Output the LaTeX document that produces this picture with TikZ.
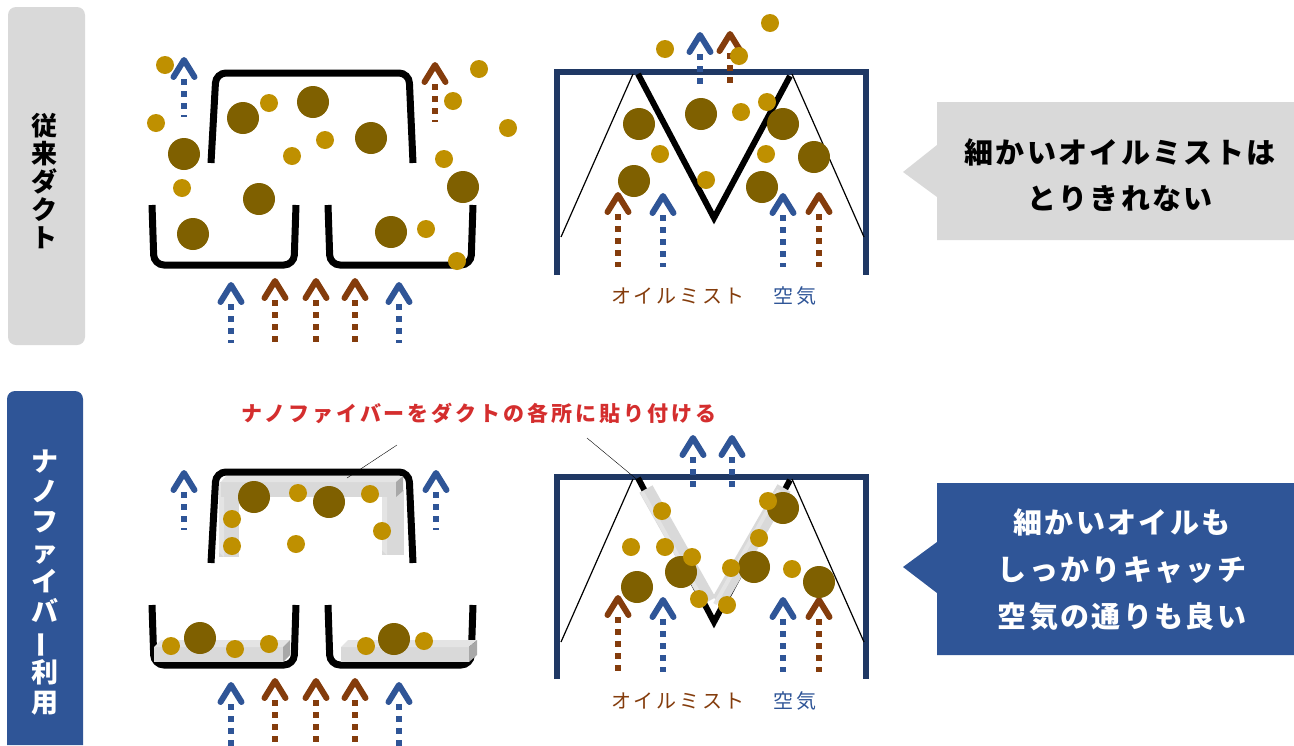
\documentclass[tikz,border=0pt]{standalone}
\usepackage{fontspec}
\newfontfamily\jp{Noto Sans CJK JP}
\newfontfamily\jpsp{Noto Sans CJK JP}[LetterSpace=8]
\definecolor{air}{HTML}{2F5597}
\definecolor{mist}{HTML}{843C0C}
\definecolor{ductnavy}{HTML}{1F3864}
\definecolor{drop}{HTML}{7F6000}
\definecolor{fine}{HTML}{BF9000}
\definecolor{panel}{HTML}{D9D9D9}
\definecolor{fiber}{HTML}{D9D9D9}
\definecolor{fibertop}{HTML}{E4E4E4}
\definecolor{fiberside}{HTML}{A8A8A8}
\definecolor{note}{HTML}{D42E2E}

\begin{document}
\begin{tikzpicture}[x=1pt, y=-1pt]
			\tikzstyle{duct} = [line width=7pt, rounded corners=10pt]
			\tikzstyle{frame} = [ductnavy, line width=6pt]
			\tikzstyle{vee} = [line width=6pt, line join=miter]
			\tikzstyle{guide} = [line width=1.2pt]
			\tikzstyle{shaft} = [line width=6pt, dash pattern=on 6pt off 6pt]
			\tikzstyle{head} = [line width=6pt, line cap=round, line join=round]
			\tikzstyle{big} = [fill=drop]
			\tikzstyle{small} = [fill=fine]
			\tikzstyle{tag} = [font=\jp\fontsize{20}{22}\selectfont\addfontfeature{LetterSpace=14}, inner sep=0]
			\useasboundingbox (0,0) rectangle (1294,745);

			% side labels
			\fill[panel, rounded corners=8pt] (8,7) rectangle (85,345);
			\node[font=\jp\bfseries\fontsize{26}{28}\selectfont, align=center, inner sep=0] (conv) at (44,181) {従\\来\\ダ\\ク\\ト};
			\fill[air] (7,745) {[rounded corners=8pt] -- (7,391) -- (83,391)} -- (83,745) -- cycle;
			\node[white, font=\jp\bfseries\fontsize{27}{30}\selectfont, align=center, inner sep=0] (nano) at (45,583) {ナ\\ノ\\フ\\ァ\\イ\\バ\\\rotatebox[origin=c]{90}{ー}\\利\\用};

			% conventional duct, hood type
			\draw[duct] (211,163) -- (216,73) -- (409,73) -- (413,163);
			\draw[duct] (152,205) -- (154,265) -- (294,265) -- (296,205);
			\draw[duct] (328,205) -- (330,265) -- (471,265) -- (473,205);

			% conventional duct, M type
			\draw[frame] (557,275) -- (557,72) -- (866,72) -- (866,275);
			\draw[guide] (561,237) -- (633,74);
			\draw[guide] (792,74) -- (864,237);
			\draw[vee] (638,74) -- (714,218) -- (790,76);

			% nanofiber duct, hood type
			\draw[duct] (211,563) -- (216,472) -- (409,472) -- (413,563);
			\draw[duct] (152,605) -- (154,665) -- (294,665) -- (296,605);
			\draw[duct] (328,605) -- (330,665) -- (471,665) -- (473,605);
			\fill[fiber] (219,482) rectangle (239,557);
			\fill[fibertop] (219,482) -- (224,486) -- (224,557) -- (219,552) -- cycle;
			\fill[fiber] (382,490) rectangle (404,555);
			\fill[fibertop] (382,490) -- (387,494) -- (387,555) -- (382,550) -- cycle;
			\fill[fiber] (221,482) rectangle (396,497);
			\fill[fibertop] (221,482) -- (226,476) -- (403,476) -- (396,482) -- cycle;
			\fill[fiberside] (396,482) -- (403,476) -- (403,491) -- (396,497) -- cycle;
			\fill[fiber] (154,647) rectangle (283,662);
			\fill[fibertop] (154,647) -- (161,640) -- (290,640) -- (283,647) -- cycle;
			\fill[fiberside] (283,647) -- (290,640) -- (290,655) -- (283,662) -- cycle;
			\fill[fiber] (341,647) rectangle (469,662);
			\fill[fibertop] (341,647) -- (348,640) -- (477,640) -- (469,647) -- cycle;
			\fill[fiberside] (469,647) -- (477,640) -- (477,655) -- (469,662) -- cycle;

			% nanofiber duct, M type
			\draw[frame] (557,679) -- (557,477) -- (866,477) -- (866,679);
			\draw[guide] (561,642) -- (633,479);
			\draw[guide] (792,479) -- (864,642);
			\draw[vee] (638,478) -- (714,622) -- (790,480);
			\draw[fiber, line width=15pt] (646,489) -- (709,601);
			\draw[fiber, line width=15pt] (719,601) -- (784,488);
			\draw[fibertop, line width=4pt] (642,492) -- (705,604);
			\draw[fibertop, line width=4pt] (715,604) -- (779,490);

			% leader lines and note
			\draw (397,445) -- (347,478);
			\draw (587,438) -- (640,482);
			\node[note, font=\jp\bfseries\fontsize{21}{24}\selectfont, inner sep=0] (tip) at (479,413) {\addfontfeature{LetterSpace=14}ナノファイバーをダクトの各所に貼り付ける};

			% flow arrows
			\foreach \x/\c/\t/\b in {184/air/57/117, 435/mist/62/122, 231/air/282/343, 275/mist/278/343, 316/mist/278/343, 355/mist/278/343, 399/air/282/343,
				700/air/32/88, 730/mist/31/88, 618/mist/192/267, 663/air/193/267, 783/air/193/267, 819/mist/192/267,
				184/air/470/530, 436/air/470/530, 231/air/682/748, 275/mist/678/748, 316/mist/678/748, 355/mist/678/748, 399/air/682/748,
				693/air/435/492, 732/air/435/492, 618/mist/595/672, 663/air/597/672, 783/air/597/672, 819/mist/597/672}
			{
				\draw[\c, shaft] (\x,\t+22) -- (\x,\b);
				\draw[\c, head] (\x-10.5,\t+20) -- (\x,\t+3) -- (\x+10.5,\t+20);
			}

			% oil mist particles
			\foreach \x/\y in {184/154, 243/118, 313/102, 371/138, 259/199, 193/234, 463/187, 391/232,
				639/124, 701/114, 783/124, 814/157, 634/181, 762/187,
				254/497, 329/502, 200/638, 394/639,
				681/572, 637/587, 754/567, 783/508, 819/582}
				\fill[big] (\x,\y) circle (16);
			\foreach \x/\y in {165/65, 156/123, 182/188, 269/103, 292/156, 325/140, 479/69, 453/101, 508/128, 444/159, 426/229, 457/261,
				665/49, 770/23, 739/56, 741/112, 767/102, 660/154, 766/154, 706/180,
				298/493, 370/494, 232/519, 232/546, 296/544, 382/531, 171/646, 235/649, 269/644, 366/646, 424/641,
				662/511, 631/547, 665/547, 692/557, 699/599, 727/605, 731/568, 759/538, 768/501, 792/569}
				\fill[small] (\x,\y) circle (9);

			% legends
			\node[tag, mist] (mist1) at (678,296) {オイルミスト};
			\node[tag, air] (air1) at (795,296) {空気};
			\node[tag, mist] (mist2) at (678,701) {オイルミスト};
			\node[tag, air] (air2) at (795,701) {空気};

			% callouts
			\fill[panel] (937,102) -- (1294,102) -- (1294,240) -- (937,240) -- (937,197) -- (903,172) -- (937,145) -- cycle;
			\node[font=\jpsp\bfseries\fontsize{29}{46}\selectfont, align=center, inner sep=0] (msg1) at (1120,175) {細かいオイルミストは\\とりきれない};
			\fill[air] (937,483) -- (1294,483) -- (1294,655) -- (937,655) -- (937,593) -- (903,567) -- (937,542) -- cycle;
			\node[white, font=\jpsp\bfseries\fontsize{29}{47}\selectfont, align=center, inner sep=0] (msg2) at (1122,570) {細かいオイルも\\しっかりキャッチ\\空気の通りも良い};
\end{tikzpicture}
\end{document}
